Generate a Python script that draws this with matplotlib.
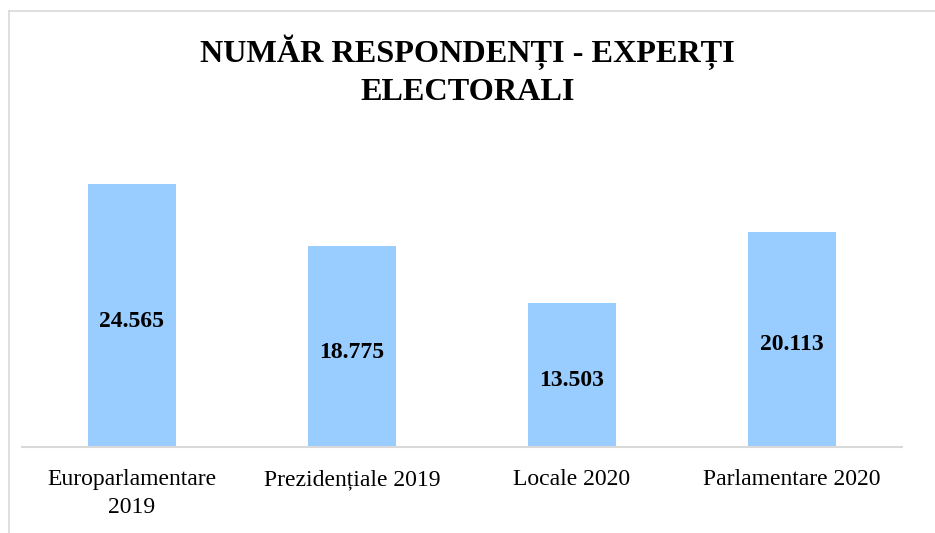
import matplotlib
matplotlib.use("Agg")
from matplotlib import pyplot as plt
from matplotlib.lines import Line2D

categories = ["Europarlamentare\n2019", "Prezidențiale 2019", "Locale 2020", "Parlamentare 2020"]
values = [24565, 18775, 13503, 20113]
value_labels = ["24.565", "18.775", "13.503", "20.113"]
title = "NUMĂR RESPONDENȚI - EXPERȚI\nELECTORALI"


def main():
    plt.rcParams["font.family"] = ["Liberation Serif", "DejaVu Serif"]

    fig = plt.figure(figsize=(9.35, 5.33), dpi=100)
    ax = fig.add_axes([22 / 935, 1 - 447 / 533, 880 / 935, (447 - 126) / 533])

    x = list(range(len(categories)))
    bars = ax.bar(x, values, width=0.4, color="#99CCFF", zorder=2)
    for b, lab in zip(bars, value_labels):
        ax.annotate(lab, (b.get_x() + b.get_width() / 2, b.get_height() / 2),
                    xytext=(0, -4), textcoords="offset points",
                    ha="center", va="center", fontsize=17, fontweight="bold")

    ax.set_xlim(-0.5, 3.5)
    ax.set_ylim(0, 30000)
    ax.set_xticks(x)
    ax.set_xticklabels(categories, fontsize=17, linespacing=1.4)
    ax.tick_params(axis="x", length=0, pad=16)
    ax.set_yticks([])
    for side in ["top", "right", "left"]:
        ax.spines[side].set_visible(False)
    ax.spines["bottom"].set_color("#D9D9D9")
    ax.spines["bottom"].set_linewidth(1.5)

    fig.text(0.5, 1 - 71 / 533, title, ha="center", va="center",
             fontsize=23.2, fontweight="bold", linespacing=1.35)

    # chart frame (partly cut off at right / bottom)
    fig.add_artist(Line2D([9 / 935, 9 / 935], [0, 1 - 11 / 533],
                          transform=fig.transFigure, color="#D9D9D9", lw=1.2))
    fig.add_artist(Line2D([9 / 935, 1], [1 - 11 / 533, 1 - 11 / 533],
                          transform=fig.transFigure, color="#D9D9D9", lw=1.2))

    fig.savefig("out.png", dpi=100)


if __name__ == "__main__":
    main()
